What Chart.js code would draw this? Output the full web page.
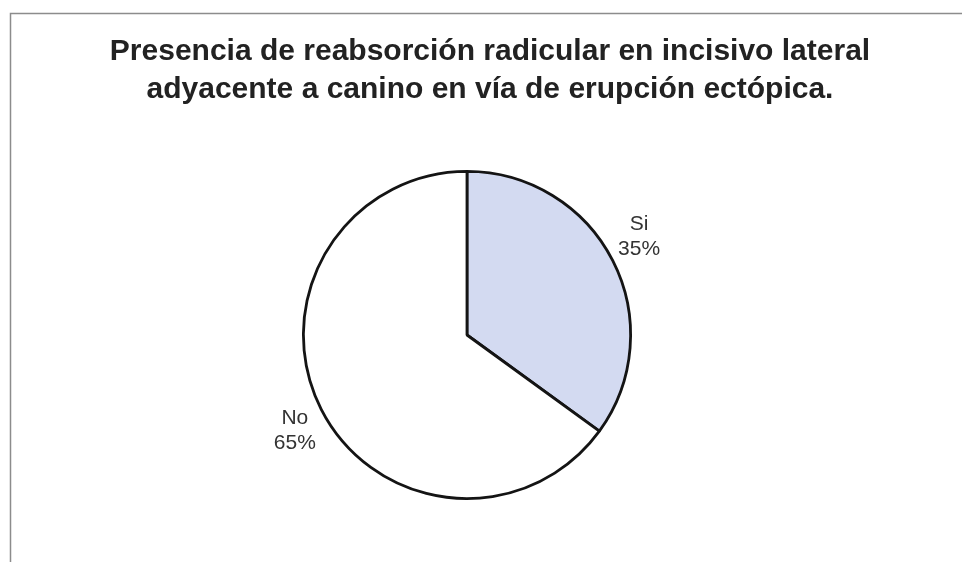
<!DOCTYPE html>
<html>
<head>
<meta charset="utf-8">
<script src="https://cdn.jsdelivr.net/npm/chart.js@4/dist/chart.umd.min.js"></script>
<style>
  html, body { margin: 0; padding: 0; background: #ffffff; }
  #wrap { width: 962px; height: 562px; position: relative; }
</style>
</head>
<body>
<div id="wrap"><canvas id="c" width="962" height="562"></canvas></div>
<script>
// Chart text and data
const titleLines = [
  'Presencia de reabsorción radicular en incisivo lateral',
  'adyacente a canino en vía de erupción ectópica.'
];
const categories = ['Si', 'No'];
const percentages = [35, 65];
const sliceColors = ['#d3daf1', '#ffffff'];

// Grey frame around the plot, plus the two-line title
const framePlugin = {
  id: 'frameAndTitle',
  beforeDraw(chart) {
    const ctx = chart.ctx;
    ctx.save();
    ctx.fillStyle = '#ffffff';
    ctx.fillRect(0, 0, chart.width, chart.height);
    ctx.strokeStyle = '#8c8c8c';
    ctx.lineWidth = 1.5;
    ctx.beginPath();
    ctx.moveTo(10.5, chart.height);
    ctx.lineTo(10.5, 13.5);
    ctx.lineTo(chart.width, 13.5);
    ctx.stroke();
    ctx.restore();
  },
  afterDraw(chart) {
    const ctx = chart.ctx;
    ctx.save();
    ctx.fillStyle = '#222222';
    ctx.font = 'bold 30px "Liberation Sans", Arial, sans-serif';
    ctx.textAlign = 'center';
    ctx.textBaseline = 'alphabetic';
    titleLines.forEach((line, i) => ctx.fillText(line, 490, 60 + i * 38));
    ctx.restore();
  }
};

// Category name and percentage placed just outside each slice
const outsideLabels = {
  id: 'outsideLabels',
  afterDatasetsDraw(chart) {
    const ctx = chart.ctx;
    const meta = chart.getDatasetMeta(0);
    const total = percentages.reduce((a, b) => a + b, 0);
    ctx.save();
    ctx.fillStyle = '#333333';
    ctx.font = '21px "Liberation Sans", Arial, sans-serif';
    ctx.textAlign = 'center';
    ctx.textBaseline = 'alphabetic';
    const lineGap = 25;
    const capH = 15.5;
    meta.data.forEach((arc, i) => {
      const mid = (arc.startAngle + arc.endAngle) / 2;
      const dx = Math.cos(mid), dy = Math.sin(mid);
      const r = arc.outerRadius + 6;
      const ax = arc.x + dx * r, ay = arc.y + dy * r;
      const lines = [categories[i], Math.round(percentages[i] / total * 100) + '%'];
      const w = Math.max(...lines.map(t => ctx.measureText(t).width));
      const cx = dx >= 0 ? ax + w / 2 : ax - w / 2;
      let base1;
      if (dy < 0) base1 = ay - lineGap - 3;   // box sits above the anchor
      else base1 = ay + capH - 3;             // box hangs below the anchor
      ctx.fillText(lines[0], cx, base1);
      ctx.fillText(lines[1], cx, base1 + lineGap);
    });
    ctx.restore();
  }
};

new Chart(document.getElementById('c'), {
  type: 'pie',
  data: {
    labels: categories,
    datasets: [{
      data: percentages,
      backgroundColor: sliceColors,
      borderColor: '#141414',
      borderWidth: 2.8
    }]
  },
  options: {
    responsive: false,
    devicePixelRatio: 1,
    animation: false,
    layout: { padding: { top: 170, bottom: 62, left: 0, right: 28 } },
    plugins: {
      legend: { display: false },
      title: { display: false },
      tooltip: { enabled: false }
    }
  },
  plugins: [framePlugin, outsideLabels]
});
</script>
</body>
</html>
